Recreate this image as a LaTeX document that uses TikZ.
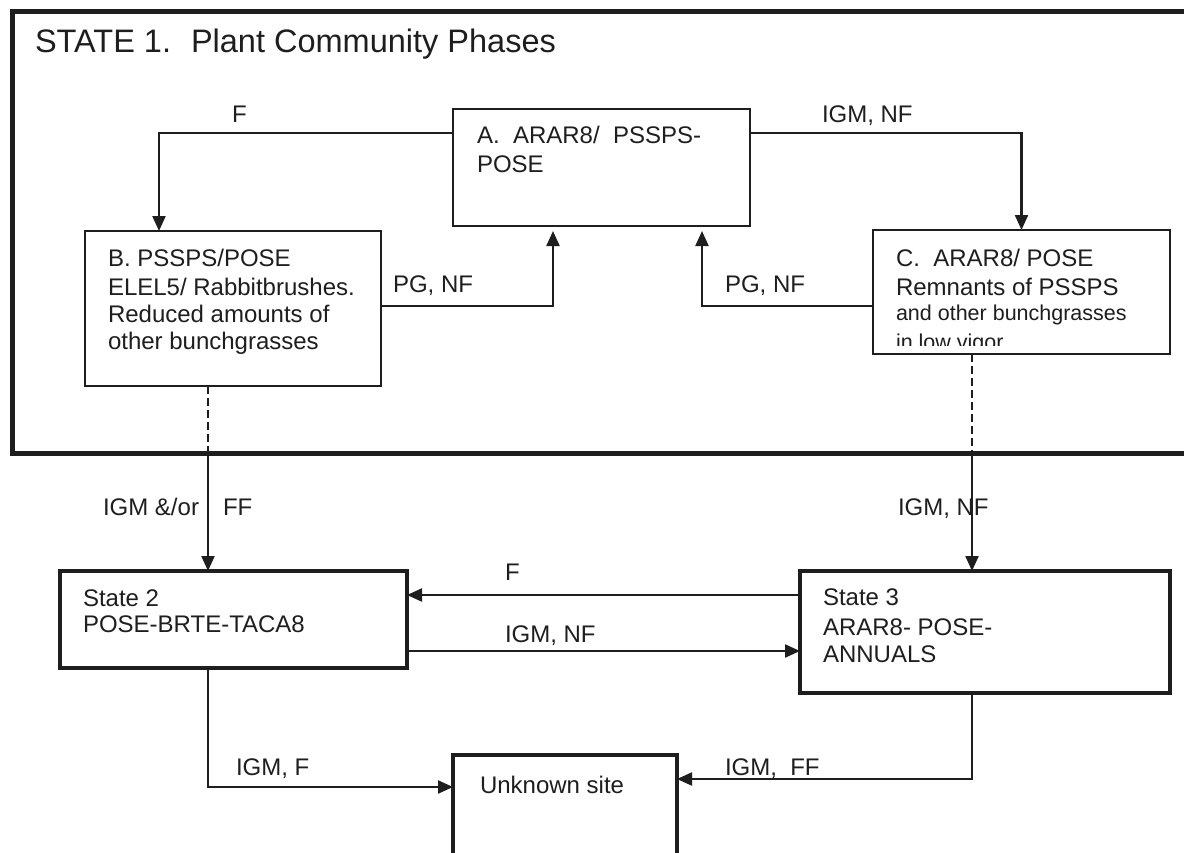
\documentclass[tikz,border=0pt]{standalone}
\usepackage{fontspec}
\setmainfont{Liberation Sans}
\usetikzlibrary{arrows.meta,calc}
\definecolor{ink}{HTML}{1E1E1E}
\tikzset{
  box/.style={draw=ink, line width=1.8pt, inner sep=0pt, outer sep=0pt, anchor=north west},
  statebox/.style={draw=ink, line width=3.5pt, inner sep=0pt, outer sep=0pt, anchor=north west},
  framebox/.style={draw=ink, line width=5pt, inner sep=0pt, outer sep=0pt, anchor=north west},
  txt/.style={inner sep=0pt, outer sep=0pt, anchor=base west, text=ink, font=\fontsize{24}{29}\selectfont},
  smalltxt/.style={txt, font=\fontsize{21.5}{26}\selectfont},
  conn/.style={draw=ink, line width=2.2pt},
  arr/.style={conn, -{Triangle[length=15pt,width=13pt]}},
  dashconn/.style={draw=ink, line width=1.6pt, dash pattern=on 8pt off 4pt}
}
\begin{document}
\begin{tikzpicture}[x=1pt,y=-1pt]
\useasboundingbox (0,0) rectangle (1184,852);
\fill[white] (0,0) rectangle (1184,852);

% frame of state 1
\node[framebox, minimum width=1190pt, minimum height=442pt] (S1) at (12.5,11) {};
\node[txt, font=\fontsize{32.5}{37}\selectfont] (title) at (35,52) {STATE 1.\hspace{20pt}Plant Community Phases};

% boxes
\node[box, minimum width=297pt, minimum height=117pt] (A) at (453,109) {};
\node[box, minimum width=296pt, minimum height=155pt] (B) at (85,231) {};
\node[box, minimum width=297pt, minimum height=124pt] (C) at (873,230) {};
\node[statebox, minimum width=347pt, minimum height=97pt] (S2) at (60,571) {};
\node[statebox, minimum width=370pt, minimum height=122pt] (S3) at (800,571) {};
\node[statebox, line width=4.5pt, minimum width=224pt, minimum height=150pt] (U) at (453,755) {};

% box texts
\node[txt] (a1) at (477,143) {A.\ \ ARAR8/\ \ PSSPS-};
\node[txt] (a2) at (477,172) {POSE};
\node[txt] (b1) at (108,266) {B. PSSPS/POSE};
\node[txt] (b2) at (108,295) {ELEL5/ Rabbitbrushes.};
\node[txt] (b3) at (108,322) {Reduced amounts of};
\node[txt] (b4) at (108,349) {other bunchgrasses};
\node[txt] (c1) at (896,266) {C.\ \ ARAR8/ POSE};
\node[txt] (c2) at (896,295) {Remnants of PSSPS};
\node[smalltxt] (c3) at (896,320) {and other bunchgrasses};
\begin{scope}
\clip (875,326) rectangle (1168,345);
\node[smalltxt] (c4) at (896,349) {in low vigor};
\end{scope}
\node[txt] (s21) at (83,606) {State 2};
\node[txt] (s22) at (83,632) {POSE-BRTE-TACA8};
\node[txt] (s31) at (823,605) {State 3};
\node[txt] (s32) at (823,635) {ARAR8- POSE-};
\node[txt] (s33) at (823,662) {ANNUALS};
\node[txt] (u1) at (480,793) {Unknown site};

% connectors within state 1
\draw[arr] ([yshift=-24pt]A.north west) -| ([xshift=-74pt]B.north);
\draw[arr] ([yshift=-24pt]A.north east) -| (C.north);
\draw[arr, shorten >=5pt] ([yshift=-75pt]B.north east) -| ([xshift=-48.5pt]A.south);
\draw[arr, shorten >=5pt] ([yshift=-76pt]C.north west) -| ([xshift=100.5pt]A.south);

% transitions out of state 1
\draw[dashconn] ([xshift=-25pt]B.south) -- ([xshift=-25pt]B.south |- S1.south);
\draw[arr] ([xshift=-25pt]B.south |- S1.south) -- ([xshift=-25.5pt]S2.north);
\draw[dashconn] ([xshift=-49.5pt]C.south) -- ([xshift=-49.5pt]C.south |- S1.south);
\draw[arr] ([xshift=-49.5pt]C.south |- S1.south) -- ([xshift=-13pt]S3.north);

% between states
\draw[arr] ([yshift=-24pt]S3.north west) -- ([yshift=-24pt]S2.north east);
\draw[arr] ([yshift=-80pt]S2.north east) -- ([yshift=-80pt]S3.north west);
\draw[arr] ([xshift=-25.5pt]S2.south) |- ([yshift=-32pt]U.north west);
\draw[arr] ([xshift=-13pt]S3.south) |- ([yshift=-24pt]U.north east);

% labels
\node[txt] (lF1) at (232,122) {F};
\node[txt] (lIN1) at (822,122) {IGM, NF};
\node[txt] (lPG1) at (393,292) {PG, NF};
\node[txt] (lPG2) at (725,292) {PG, NF};
\node[txt] (lIGMa) at (103,515) {IGM \&/or};
\node[txt] (lFF1) at (223,515) {FF};
\node[txt] (lIN2) at (898,515) {IGM, NF};
\node[txt] (lF2) at (505,580) {F};
\node[txt] (lIN3) at (505,642) {IGM, NF};
\node[txt] (lIF) at (236,775) {IGM, F};
\node[txt] (lIFF) at (725,775) {IGM,\ \ FF};
\end{tikzpicture}
\end{document}
